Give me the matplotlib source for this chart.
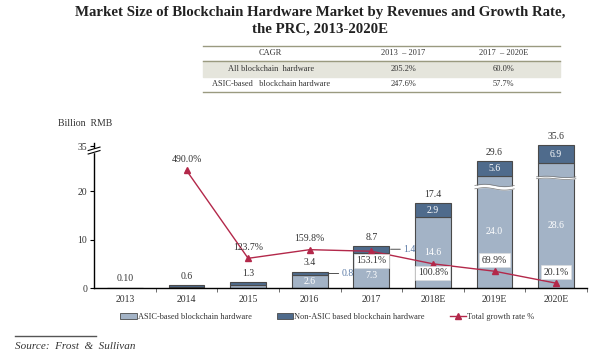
import matplotlib

matplotlib.use("Agg")
import matplotlib.pyplot as plt
from matplotlib.lines import Line2D
from matplotlib.patches import Patch, Rectangle
import numpy as np

plt.rcParams["font.family"] = ["Liberation Serif", "DejaVu Serif"]

years = ["2013", "2014", "2015", "2016", "2017", "2018E", "2019E", "2020E"]
asic = [0.07, 0.2, 0.7, 2.6, 7.3, 14.6, 24.0, 28.6]
non_asic = [0.03, 0.4, 0.6, 0.8, 1.4, 2.9, 5.6, 6.9]
totals = ["0.10", "0.6", "1.3", "3.4", "8.7", "17.4", "29.6", "35.6"]
growth = [np.nan, 490.0, 123.7, 159.8, 153.1, 100.8, 69.9, 20.1]
growth_labels = ["", "490.0%", "123.7%", "159.8%", "153.1%", "100.8%", "69.9%", "20.1%"]

cagr_header = ["CAGR", "2013  \u2013 2017", "2017  \u2013 2020E"]
cagr_rows = ["All blockchain  hardware", "ASIC-based   blockchain hardware"]
cagr_values = [["205.2%", "60.0%"], ["247.6%", "57.7%"]]

LIGHT = "#a3b3c6"
DARK = "#4f6b8c"
EDGE = "#4a4a4a"
RED = "#b3284a"
TEXT = "#333333"

# y axis is compressed above this value (the chart has a broken axis)
BREAK, K = 22.0, 0.56


def fwd(v):
    v = np.asarray(v, dtype=float)
    return np.where(v <= BREAK, v, BREAK + (v - BREAK) * K)


def inv(d):
    d = np.asarray(d, dtype=float)
    return np.where(d <= BREAK, d, BREAK + (d - BREAK) / K)


def mid(lo, hi, frac=0.5):
    return float(inv(fwd(lo) + (fwd(hi) - fwd(lo)) * frac))


fig = plt.figure(figsize=(6.07, 3.61), dpi=100)
ax = fig.add_axes([0.155, 0.2022, 0.812, 0.4008])
ax.set_yscale("function", functions=(fwd, inv))

x = np.arange(len(years))
width = 0.58
ax.bar(x, asic, width, color=LIGHT, edgecolor=EDGE, linewidth=0.8, zorder=2)
ax.bar(x, non_asic, width, bottom=asic, color=DARK, edgecolor=EDGE, linewidth=0.8, zorder=2)

# the 2017 ASIC label sits low, under the growth-rate box
asic_label_frac = [0.5, 0.5, 0.5, 0.5, 0.35, 0.5, 0.5, 0.5]
for i in range(len(years)):
    top = asic[i] + non_asic[i]
    ax.annotate(totals[i], (x[i], top), xytext=(0, 3), textcoords="offset points",
                ha="center", va="bottom", fontsize=7, color=TEXT)
    if asic[i] >= 2:
        ax.text(x[i], mid(0, asic[i], asic_label_frac[i]), f"{asic[i]:.1f}",
                ha="center", va="center", fontsize=7, color="white", zorder=4)
    if non_asic[i] >= 2:
        ax.text(x[i], mid(asic[i], top), f"{non_asic[i]:.1f}", ha="center", va="center",
                fontsize=7, color="white", zorder=4)
    elif asic[i] >= 2:
        # small segments labelled outside with a leader line
        yv = mid(asic[i], top)
        ax.annotate(f"{non_asic[i]:.1f}", (x[i] + width / 2, yv), xytext=(10, 0),
                    textcoords="offset points", ha="left", va="center", fontsize=7,
                    color="#5a7aa6",
                    arrowprops=dict(arrowstyle="-", color="#333333", lw=0.6,
                                    shrinkA=0, shrinkB=1))

# wavy breaks inside the two tallest bars
for i, level in ((6, 20.8), (7, 23.3)):
    xs = np.linspace(x[i] - width / 2 - 0.03, x[i] + width / 2 + 0.03, 60)
    wave = level + 0.25 * np.sin((xs - xs[0]) / (xs[-1] - xs[0]) * 2 * np.pi)
    ax.fill_between(xs, wave - 0.35, wave + 0.35, color="white", zorder=3, lw=0)
    ax.plot(xs, wave - 0.35, color="#777777", lw=0.5, zorder=3)
    ax.plot(xs, wave + 0.35, color="#777777", lw=0.5, zorder=3)

ax.set_xlim(-0.5, len(years) - 0.5)
ax.set_ylim(0, 36)
ax.set_yticks([0, 10, 20, 35])
ax.set_xticks(x)
ax.set_xticklabels(years)
ax.set_xticks(list(x[:-1] + 0.5) + [len(years) - 0.5], minor=True)
ax.tick_params(axis="x", which="major", length=0, labelsize=7, pad=5, colors=TEXT)
ax.tick_params(axis="x", which="minor", length=3, width=0.6, direction="out", color="#555555")
ax.tick_params(axis="y", length=3, width=0.8, labelsize=7, pad=2, colors="black",
               labelcolor=TEXT)
for side in ("top", "right"):
    ax.spines[side].set_visible(False)
ax.spines["left"].set_linewidth(1.0)
ax.spines["bottom"].set_linewidth(1.0)

# break mark on the y axis
yb = 0.95
ax.add_patch(Rectangle((-0.01, yb - 0.012), 0.02, 0.024, transform=ax.transAxes,
                       color="white", clip_on=False, zorder=5))
for dy in (-0.012, 0.012):
    ax.plot([-0.012, 0.012], [yb + dy - 0.012, yb + dy + 0.012], transform=ax.transAxes,
            color="black", lw=0.8, clip_on=False, zorder=6)

# growth rate on its own hidden axis
ax2 = ax.twinx()
ax2.set_ylim(0, 603)
ax2.axis("off")
ax2.plot(x, growth, color=RED, lw=1.0, marker="^", markersize=5, zorder=5)
offsets = [0, 8, 8, 8, -7, -6.5, 8, 8]
boxed = [False, False, False, False, True, True, True, True]
for i in range(1, len(years)):
    box = dict(boxstyle="square,pad=0.25", fc="white", ec="#dddddd", lw=0.4) if boxed[i] else None
    ax2.annotate(growth_labels[i], (x[i], growth[i]), xytext=(0, offsets[i]),
                 textcoords="offset points", ha="center", va="center", fontsize=7,
                 color=TEXT, bbox=box, zorder=6)

fig.text(0.096, 0.659, "Billion  RMB", fontsize=7, color=TEXT, va="center")

# title
fig.text(0.527, 0.966, "Market Size of Blockchain Hardware Market by Revenues and Growth Rate,",
         ha="center", va="center", fontsize=10.7, fontweight="bold", color="#222222")
fig.text(0.527, 0.921, "the PRC, 2013-2020E", ha="center", va="center", fontsize=10.7,
         fontweight="bold", color="#222222")

# CAGR table
tx0, tx1 = 0.334, 0.923
fig.patches.append(Rectangle((tx0, 0.787), tx1 - tx0, 0.044, transform=fig.transFigure,
                             color="#e5e5dc", zorder=0))
for yl in (0.873, 0.831, 0.745):
    fig.lines.append(Line2D([tx0, tx1], [yl, yl], transform=fig.transFigure,
                            color="#9a9a80", lw=1.0))
col_x = [0.446, 0.664, 0.830]
for cx, label in zip(col_x, cagr_header):
    fig.text(cx, 0.853, label, ha="center", va="center", fontsize=6, color=TEXT)
for ry, name, vals in zip((0.808, 0.767), cagr_rows, cagr_values):
    fig.text(col_x[0], ry, name, ha="center", va="center", fontsize=6, color=TEXT)
    for cx, v in zip(col_x[1:], vals):
        fig.text(cx, ry, v, ha="center", va="center", fontsize=6, color=TEXT)

handles = [
    Patch(facecolor=LIGHT, edgecolor=EDGE, lw=0.6),
    Patch(facecolor=DARK, edgecolor=EDGE, lw=0.6),
    Line2D([], [], color=RED, lw=1.0, marker="^", markersize=4),
]
fig.legend(handles, ["ASIC-based blockchain hardware", "Non-ASIC based blockchain hardware",
                     "Total growth rate %"],
           loc="center", bbox_to_anchor=(0.539, 0.122), ncol=3, frameon=False,
           fontsize=6, handlelength=2.0, handleheight=0.6, handletextpad=0.1,
           columnspacing=3.0, labelcolor=TEXT)

fig.lines.append(Line2D([0.025, 0.158], [0.069, 0.069], transform=fig.transFigure,
                        color="#555555", lw=1.0))
fig.text(0.025, 0.039, "Source:  Frost  &  Sullivan", fontsize=8, style="italic",
         color=TEXT, va="center")

fig.savefig("out.png", dpi=100)
